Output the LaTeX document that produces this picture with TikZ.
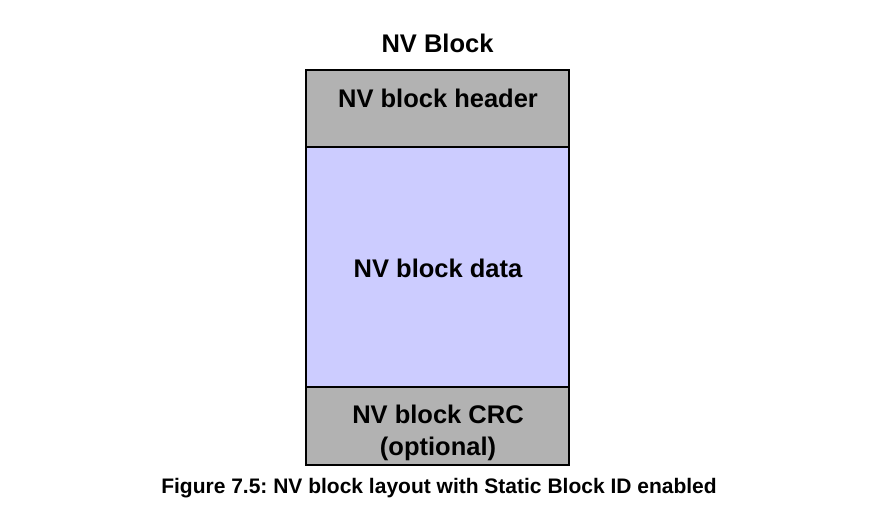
\documentclass[tikz,border=0pt]{standalone}
\usepackage{fontspec}
\setmainfont{Liberation Sans}
\frenchspacing
\definecolor{hdrgray}{HTML}{B2B2B2}
\definecolor{datalav}{HTML}{CCCCFF}
\begin{document}
\begin{tikzpicture}[x=1pt,y=-1pt,
  part/.style={draw=black,line width=1.4pt,minimum width=263pt,inner sep=0pt,outer sep=0pt},
  lbl/.style={font=\fontsize{25.5}{32}\selectfont\bfseries,align=center,inner sep=0pt},
  captext/.style={font=\fontsize{21}{25}\selectfont\bfseries,inner sep=0pt}]
\useasboundingbox (0,0) rectangle (877,514);
\node[part,fill=hdrgray,minimum height=77pt] (hdr) at (437.5,108.5) {};
\node[part,fill=datalav,minimum height=240pt] (data) at (437.5,267) {};
\node[part,fill=hdrgray,minimum height=78pt] (crc) at (437.5,426) {};
\node[lbl] (title) at (437.5,43) {NV Block};
\node[lbl] (thdr) at (438,98) {NV block header};
\node[lbl] (tdata) at (438,268) {NV block data};
\node[lbl] (tcrc) at (438,433) {NV block CRC\\(optional)};
\node[captext] (caption) at (439,488) {Figure 7.5: NV block layout with Static Block ID enabled};
\end{tikzpicture}
\end{document}
